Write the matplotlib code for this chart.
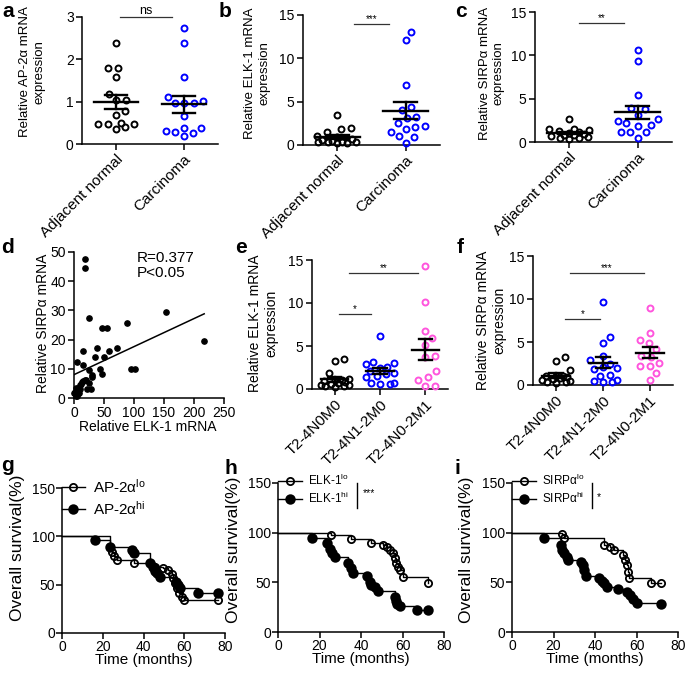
import numpy as np
import matplotlib.pyplot as plt
from matplotlib.lines import Line2D

plt.rcParams['font.family'] = ['Liberation Sans', 'DejaVu Sans']
plt.rcParams['mathtext.fontset'] = 'custom'
plt.rcParams['mathtext.rm'] = 'Liberation Sans'
plt.rcParams['mathtext.it'] = 'Liberation Sans:italic'
plt.rcParams['axes.linewidth'] = 1.1

# ---------------- data ----------------
cats2 = ['Adjacent normal', 'Carcinoma']
cats3 = ['T2-4N0M0', 'T2-4N1-2M0', 'T2-4N0-2M1']

ap2_normal = [2.38, 1.80, 1.80, 1.58, 1.18, 1.04, 1.04, 0.78, 0.69, 0.47, 0.47, 0.49, 0.47, 0.35, 0.39]
ap2_carcinoma = [2.73, 2.38, 1.58, 1.12, 1.02, 0.96, 0.96, 0.96, 0.65, 0.37, 0.29, 0.37, 0.31, 0.19, 0.25]

elk_normal = [3.5, 2.0, 1.9, 1.45, 1.0, 0.9, 0.75, 0.6, 0.5, 0.4, 0.35, 0.3, 0.3, 0.25, 0.2]
elk_carcinoma = [13.0, 12.1, 6.9, 4.04, 4.35, 3.08, 3.27, 2.19, 2.5, 1.85, 2.04, 1.54, 1.08, 0.89, 0.27]

sirp_normal = [2.7, 1.55, 1.5, 1.4, 1.25, 1.1, 1.0, 0.9, 0.85, 0.8, 0.75, 0.6, 0.5, 0.45, 0.4]
sirp_carcinoma = [10.6, 9.3, 5.4, 3.9, 3.8, 3.1, 2.6, 2.4, 2.15, 2.0, 1.9, 1.2, 1.15, 1.1, 0.5]

corr_elk = [17.8, 18.9, 25, 4.4, 15.6, 15.6, 46.7, 54.4, 37.8, 35, 50.6, 57.8, 71, 87.8, 153, 217,
            94.4, 101, 43, 46.7, 25.6, 29.4, 30.5, 25.6, 22, 27.8, 18.3, 12.8, 10, 7.2, 4.4, 1.7,
            3.3, 8.9, 5.6, 0, 11.7, 14.4, 20.5, 2.5, 6.5, 9.5, 3]
corr_sirp = [47.7, 44.5, 27.5, 12.3, 16, 11.4, 24, 24, 17.1, 14, 14, 16, 17.1, 25.7, 29.5, 19.5,
             9.9, 9.9, 9.9, 8.1, 9.5, 8, 7.2, 5.1, 3, 3, 6.3, 5.5, 4.3, 3.4, 2.6, 2,
             1.3, 1.8, 0.6, 1.7, 4.9, 5.7, 6, 3.5, 2.2, 3.0, 0.8]
corr_fit = (8.0, 0.096)   # intercept, slope of the drawn regression line
corr_text = 'R=0.377\nP<0.05'

elk_n0m0 = [3.45, 3.2, 1.9, 1.2, 1.1, 1.0, 0.9, 0.8, 0.7, 0.6, 0.5, 0.45, 0.35, 0.3, 0.2]
elk_n12m0 = [6.2, 3.1, 3.0, 2.9, 2.6, 2.5, 2.1, 1.9, 1.8, 1.5, 1.4, 0.7, 0.65, 0.6, 0.6]
elk_m1 = [14.3, 10.1, 6.7, 5.9, 5.1, 3.8, 3.7, 2.1, 1.4, 1.1, 0.4, 0.35]

sirp_n0m0 = [3.3, 2.8, 1.7, 1.1, 1.0, 1.0, 0.9, 0.8, 0.7, 0.6, 0.5, 0.4, 0.3, 0.25]
sirp_n12m0 = [9.7, 5.6, 4.85, 3.4, 2.9, 2.5, 2.1, 2.0, 1.9, 1.2, 1.0, 0.6, 0.5, 0.35, 0.3]
sirp_m1 = [9.0, 6.0, 5.2, 4.9, 4.2, 3.4, 3.3, 2.6, 2.2, 2.2, 1.4, 0.6]

# survival: time (months), survival (%)
ap2_lo_t = [23.7, 24.5, 25.3, 26.9, 35.1, 45.7, 49.8, 52.2, 53.9, 54.7, 55.5, 56.3, 57.5, 58.8, 60.1, 76.5]
ap2_lo_s = [89.4, 84.2, 79.7, 75.5, 72.0, 68.6, 66.9, 65.1, 61.0, 56.5, 51.3, 46.1, 41.6, 37.4, 34.6, 34.6]
ap2_hi_t = [16.3, 23.7, 34.3, 35.1, 43.3, 44.6, 45.4, 46.5, 48.2, 56, 56.8, 58, 66.9, 76.5]
ap2_hi_s = [96.3, 89.4, 85.9, 82.4, 72.0, 68.6, 64.4, 61.7, 58.2, 53, 49.5, 46.1, 41.6, 41.6]

elk_lo_t = [25.4, 35, 44.7, 50.6, 52.7, 54.1, 55.4, 56.2, 57, 57.8, 58.9, 60.2, 72.3]
elk_lo_s = [97.7, 93.4, 89.3, 87.6, 85.3, 82.6, 79.2, 74.2, 69.1, 65.7, 62.4, 55.0, 48.9]
elk_hi_t = [16.4, 23.8, 24.9, 26, 27.3, 33.7, 35, 36.1, 43, 44.2, 45, 46.6, 48.2, 56.2, 56.7, 57.5, 58.6, 67.1, 72.3]
elk_hi_s = [94.4, 89.3, 83.3, 79.2, 75.2, 69.1, 64, 59.7, 56.3, 50.6, 47.2, 44.8, 41.5, 35.4, 31.3, 28.6, 26, 22.6, 22.6]

sirp_lo_t = [24, 25.3, 44.5, 47.2, 49.3, 53.6, 54.4, 55.2, 55.7, 56.3, 67.2, 71.7]
sirp_lo_s = [98.8, 94.4, 87.6, 85.3, 82.6, 77.5, 72.5, 67.4, 60.7, 53.9, 49.5, 49.5]
sirp_hi_t = [15.2, 23.7, 24.3, 25.3, 26.4, 27.2, 33.3, 34.1, 34.9, 35.7, 41.9, 43.2, 44.3, 45.6, 51.2, 55.2, 56.8, 58.4, 60, 71.7]
sirp_hi_s = [94.4, 87.6, 82.6, 79.2, 75.2, 72.5, 70.8, 67.4, 62.4, 56.3, 53.9, 51.6, 48.9, 45.5, 42.8, 40.4, 37.1, 33.7, 29.3, 28]

BLACK, BLUE, PINK = 'black', '#0000ff', '#ff55dd'

W, H = 685, 674
fig = plt.figure(figsize=(W / 100, H / 100), dpi=100)


def box(l, t, r, b):
    return fig.add_axes([l / W, 1 - b / H, (r - l) / W, (b - t) / H])


def prism(ax):
    ax.spines['top'].set_visible(False)
    ax.spines['right'].set_visible(False)
    ax.tick_params(direction='out', length=4, width=1.1, labelsize=10, pad=2)


def swarm(ax, vals, center, d=9.5, cap=20.0):
    # beeswarm in pixel space, offsets limited to +-cap px (overlap allowed beyond)
    x0, y0 = ax.transData.transform((0, 0))
    x1, y1 = ax.transData.transform((1, 1))
    sx, sy = x1 - x0, y1 - y0
    ys = np.asarray(vals, float) * sy
    xs = np.zeros(len(ys))
    placed = []
    for i in np.argsort(ys):
        y = ys[i]
        cands = [0.0]
        for px, py in placed:
            dy = abs(py - y)
            if dy < d:
                dx = np.sqrt(d * d - dy * dy)
                cands += [px + dx, px - dx]
        cands = sorted([c for c in cands if abs(c) <= cap + 1e-6], key=abs)
        best = None
        for c in cands:
            if all((c - px) ** 2 + (y - py) ** 2 >= d * d - 1e-6 for px, py in placed):
                best = c
                break
        if best is None:
            grid = np.linspace(-cap, cap, 9)
            best = max(grid, key=lambda c: min((c - px) ** 2 + (y - py) ** 2 for px, py in placed))
        placed.append((best, y))
        xs[i] = best
    return center + xs / sx


def dots(ax, series, colors, cats, ymax, ystep, half, cap, catsize=11):
    prism(ax)
    n = len(series)
    ax.set_xlim(-0.5, n - 0.5)
    ax.set_ylim(0, ymax)
    ax.set_yticks(np.arange(0, ymax + 0.01, ystep))
    ax.set_xticks(range(n))
    ax.set_xticklabels(cats, rotation=45, ha='right', rotation_mode='anchor', fontsize=catsize)
    for k, (vals, c) in enumerate(zip(series, colors)):
        xs = swarm(ax, vals, k, cap=cap)
        ax.plot(xs, vals, 'o', ms=4.3, mfc='none', mec=c, mew=1.4, ls='none',
                clip_on=False, zorder=3)
        m = np.mean(vals)
        se = np.std(vals, ddof=1) / np.sqrt(len(vals))
        ax.plot([k - half, k + half], [m, m], color='k', lw=1.7, zorder=4)
        ax.plot([k - half / 2, k + half / 2], [m + se] * 2, color='k', lw=1.7, zorder=4)
        ax.plot([k - half / 2, k + half / 2], [m - se] * 2, color='k', lw=1.7, zorder=4)
        ax.plot([k, k], [m - se, m + se], color='k', lw=1.7, zorder=4)


def bracket(ax, x1, x2, y, label, fs=7, dy=0.0):
    ax.plot([x1, x2], [y, y], color='#333333', lw=0.9, clip_on=False)
    ax.text((x1 + x2) / 2, y + dy, label, ha='center', va='bottom', fontsize=fs)


def survival(ax, curves, labels, fs_leg, hl, sig=None):
    prism(ax)
    ax.set_xlim(0, 80)
    ax.set_ylim(0, 150)
    ax.set_xticks([0, 20, 40, 60, 80])
    ax.set_yticks([0, 50, 100, 150])
    ax.tick_params(labelsize=10, pad=1)
    handles = []
    for (t, s), filled in zip(curves, [False, True]):
        ax.step(np.r_[0, t], np.r_[100, s], where='post', color='k', lw=1.0, clip_on=False)
        ms = 6.2 if filled else 5.2
        ax.plot(t, s, 'o', ms=ms, mfc='k' if filled else 'none', mec='k', mew=1.3,
                ls='none', clip_on=False, zorder=3)
        handles.append(Line2D([], [], color='k', lw=1.0, marker='o', ms=ms,
                              mfc='k' if filled else 'none', mec='k', mew=1.3))
    ax.legend(handles, labels, loc='upper left', bbox_to_anchor=(0.0, 1.07),
              frameon=False, fontsize=fs_leg, handlelength=hl, handletextpad=0.5,
              borderpad=0, borderaxespad=0, labelspacing=0.25)
    ax.set_xlabel('Time (months)', fontsize=11)
    ax.xaxis.set_label_coords(0.5, -0.135)
    ax.set_ylabel('Overall survival(%)', fontsize=12.5)
    if sig is not None:
        bx, stars, sx, sy = sig
        ax.plot([bx, bx], [0.83, 1.0], color='k', lw=1.0, transform=ax.transAxes, clip_on=False)
        ax.text(sx, sy, stars, transform=ax.transAxes, fontsize=7.5, ha='left', va='center')


# ---------------- a ----------------
ax = box(82, 17, 218, 144)
dots(ax, [ap2_normal, ap2_carcinoma], [BLACK, BLUE], cats2, 3, 1, 0.33, 20)
ax.set_ylabel('Relative AP-2α mRNA\nexpression', fontsize=9.5)
ax.yaxis.set_label_coords(-0.27, 0.57)
bracket(ax, 0.06, 0.82, 3.0, 'ns', fs=9)

# ---------------- b ----------------
ax = box(303, 15, 440, 145)
dots(ax, [elk_normal, elk_carcinoma], [BLACK, BLUE], cats2, 15, 5, 0.33, 20)
ax.set_ylabel('Relative ELK-1 mRNA\nexpression', fontsize=9.5)
ax.yaxis.set_label_coords(-0.24, 0.55)
bracket(ax, 0.24, 0.755, 14.0, '***')

# ---------------- c ----------------
ax = box(535, 12, 672, 142)
dots(ax, [sirp_normal, sirp_carcinoma], [BLACK, BLUE], cats2, 15, 5, 0.33, 20)
ax.set_ylabel('Relative SIRPα mRNA\nexpression', fontsize=9.5)
ax.yaxis.set_label_coords(-0.22, 0.53)
bracket(ax, 0.14, 0.80, 13.7, '**')

# ---------------- d ----------------
ax = box(74, 252, 224, 398)
prism(ax)
ax.plot(corr_elk, corr_sirp, 'o', ms=3.8, color='k', ls='none', clip_on=False)
fx = np.array([0, max(corr_elk)])
ax.plot(fx, corr_fit[0] + corr_fit[1] * fx, color='k', lw=1.1)
ax.set_xlim(0, 250)
ax.set_ylim(0, 50)
ax.set_xticks(np.arange(0, 251, 50))
ax.set_yticks(np.arange(0, 51, 10))
ax.text(0.42, 1.01, corr_text, transform=ax.transAxes, fontsize=11, va='top', linespacing=1.15)
ax.set_ylabel('Relative SIRPα mRNA', fontsize=10)
ax.yaxis.set_label_coords(-0.16, 0.51)
ax.set_xlabel('Relative ELK-1 mRNA', fontsize=10)
ax.xaxis.set_label_coords(0.49, -0.15)

# ---------------- e ----------------
ax = box(312, 260, 448, 389)
dots(ax, [elk_n0m0, elk_n12m0, elk_m1], [BLACK, BLUE, PINK], cats3, 15, 5, 0.3, 14, catsize=11)
ax.set_ylabel('Relative ELK-1 mRNA\nexpression', fontsize=10)
ax.yaxis.set_label_coords(-0.25, 0.51)
bracket(ax, 0.10, 0.80, 8.7, '*')
bracket(ax, 0.32, 1.84, 13.5, '**')

# ---------------- f ----------------
ax = box(533, 256, 673, 385)
dots(ax, [sirp_n0m0, sirp_n12m0, sirp_m1], [BLACK, BLUE, PINK], cats3, 15, 5, 0.3, 14, catsize=11)
ax.set_ylabel('Relative SIRPα mRNA\nexpression', fontsize=10)
ax.yaxis.set_label_coords(-0.19, 0.5)
bracket(ax, 0.185, 0.93, 7.67, '*')
bracket(ax, 0.29, 1.88, 13.05, '***')

# ---------------- g, h, i ----------------
ax = box(62, 488, 225, 633)
survival(ax, [(ap2_lo_t, ap2_lo_s), (ap2_hi_t, ap2_hi_s)],
         ['AP-2α$^{\\rm lo}$', 'AP-2α$^{\\rm hi}$'], 11, 1.5)
ax.yaxis.set_label_coords(-0.23, 0.59)

ax = box(278, 483, 444, 632)
survival(ax, [(elk_lo_t, elk_lo_s), (elk_hi_t, elk_hi_s)],
         ['ELK-1$^{\\rm lo}$', 'ELK-1$^{\\rm hi}$'], 8.5, 2.0, sig=(0.476, '***', 0.51, 0.935))
ax.yaxis.set_label_coords(-0.22, 0.55)

ax = box(512, 483, 678, 632)
survival(ax, [(sirp_lo_t, sirp_lo_s), (sirp_hi_t, sirp_hi_s)],
         ['SIRPα$^{\\rm lo}$', 'SIRPα$^{\\rm hi}$'], 8.5, 2.0, sig=(0.482, '*', 0.51, 0.905))
ax.yaxis.set_label_coords(-0.23, 0.55)

# panel letters
for lab, x, y in [('a', 2, 2), ('b', 219, 2), ('c', 455, 2), ('d', 1, 238), ('e', 235, 238),
                  ('f', 457, 238), ('g', 1, 456), ('h', 225, 459), ('i', 455, 459)]:
    fig.text(x / W, 1 - y / H, lab, fontsize=15, fontweight='bold', va='top', ha='left')

fig.savefig('out.png', dpi=100)
